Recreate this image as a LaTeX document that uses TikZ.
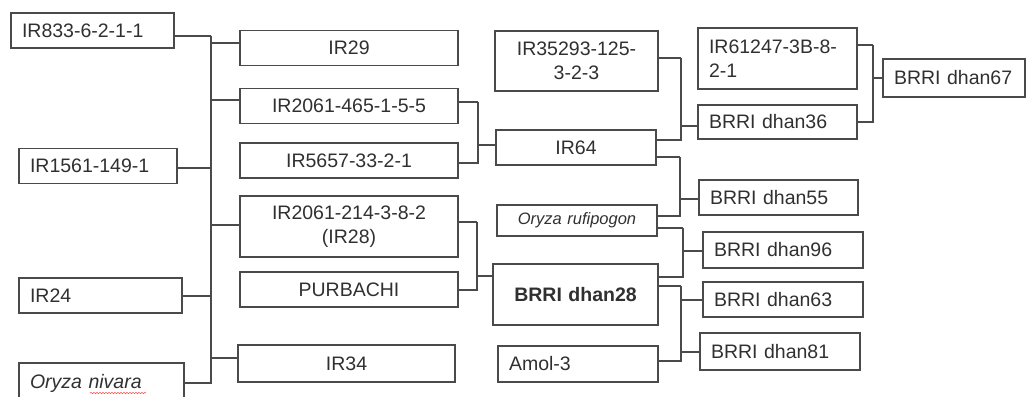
\documentclass[tikz,border=0pt]{standalone}
\usepackage{fontspec}
\setmainfont{Liberation Sans}
\usetikzlibrary{decorations.pathmorphing}
\definecolor{linegray}{HTML}{4A4A4A}
\definecolor{textgray}{HTML}{303030}
\tikzset{
  cell/.style={draw=linegray, line width=1.3pt, text=textgray, inner xsep=11pt,
    inner ysep=0pt, minimum height=35pt, font=\fontsize{19.5}{24}\selectfont},
  lcell/.style={cell, align=left, text width=#1},
  ccell/.style={cell, align=center, text width=#1},
  link/.style={draw=linegray, line width=1.3pt}
}

\begin{document}
\begin{tikzpicture}[x=1pt, y=-1pt]
\useasboundingbox (0,0) rectangle (1027,396);

\node[lcell=141pt] (ir833) at (92.5,30.5) {IR833-6-2-1-1};
\node[lcell=136pt] (ir1561) at (98,166) {IR1561-149-1};
\node[lcell=141pt] (ir24) at (100.5,295.5) {IR24};
\node[lcell=143pt, minimum height=40pt] (onivara) at (101.5,383) {\textit{Oryza nivara}};
\draw[red!70, line width=0.5pt, decorate, decoration={snake, amplitude=0.7pt, segment length=3pt}]
		(90,393) -- (146,393);

\node[ccell=196pt] (ir29) at (349,48) {IR29};
\node[ccell=196pt] (ir2061a) at (349,106) {IR2061-465-1-5-5};
\node[ccell=196pt] (ir5657) at (349,160.5) {IR5657-33-2-1};
\node[ccell=196pt, minimum height=61pt] (ir28) at (349,226.5) {IR2061-214-3-8-2\\(IR28)};
\node[ccell=196pt] (purbachi) at (349,289.5) {PURBACHI};
\node[ccell=195pt, minimum height=37pt] (ir34) at (346.5,363.5) {IR34};

\node[ccell=141pt, minimum height=60pt] (ir35293) at (576.5,61) {IR35293-125-\\3-2-3};
\node[ccell=138pt] (ir64) at (576,147.5) {IR64};
\node[ccell=138pt, minimum height=31pt, font=\fontsize{16.5}{20}\selectfont\itshape] (orufi) at (577,220.5) {Oryza rufipogon};
\node[ccell=143pt, minimum height=61pt, font=\fontsize{19.5}{24}\selectfont\bfseries] (dhan28) at (575.5,294.5) {BRRI dhan28};
\node[lcell=138pt, minimum height=36pt] (amol) at (578,364) {Amol-3};

\node[lcell=137pt, minimum height=61pt] (ir61247) at (777.5,58.5) {IR61247-3B-8-\\2-1};
\node[lcell=137pt, minimum height=34pt] (dhan36) at (777.5,122) {BRRI dhan36};
\node[lcell=137pt] (dhan55) at (778.5,197.5) {BRRI dhan55};
\node[lcell=138pt, minimum height=36pt] (dhan96) at (783,250) {BRRI dhan96};
\node[lcell=138pt] (dhan63) at (783,299.5) {BRRI dhan63};
\node[lcell=138pt, minimum height=37pt] (dhan81) at (780,351.5) {BRRI dhan81};
\node[lcell=120pt, minimum height=38pt] (dhan67) at (954,78) {BRRI dhan67};

\coordinate (spA) at (211,36);
\draw[link] ([yshift=-5.5pt]ir833.east) -- (spA);
\draw[link] (onivara.east) -| (spA);
\draw[link] ([yshift=-2pt]ir1561.east) -| (spA);
\draw[link] ([yshift=-0.5pt]ir24.east) -| (spA);
\draw[link] (spA) |- ([yshift=5pt]ir29.west);
\draw[link] (spA) |- ([yshift=6pt]ir2061a.west);
\draw[link] (spA) |- ([yshift=1.5pt]ir28.west);
\draw[link] (spA) |- ([yshift=5.5pt]ir34.west);

\coordinate (spB) at (478,102);
\draw[link] ([yshift=4pt]ir2061a.east) -- (spB);
\draw[link] ([yshift=-2.5pt]ir5657.east) -| (spB);
\draw[link] (spB) |- ([yshift=2.5pt]ir64.west);

\coordinate (spC) at (477,222);
\draw[link] ([yshift=4.5pt]ir28.east) -- (spC);
\draw[link] ([yshift=-0.5pt]purbachi.east) -| (spC);
\draw[link] (spC) |- ([yshift=18.5pt]dhan28.west);

\coordinate (spD) at (681,58);
\draw[link] ([yshift=3pt]ir35293.east) -- (spD);
\draw[link] ([yshift=7.5pt]ir64.east) -| (spD);
\draw[link] (spD) |- ([yshift=-4pt]dhan36.west);

\coordinate (spE) at (680,157);
\draw[link] ([yshift=-9.5pt]ir64.east) -- (spE);
\draw[link] ([yshift=4.5pt]orufi.east) -| (spE);
\draw[link] (spE) |- ([yshift=-1.5pt]dhan55.west);

\coordinate (spF) at (683,228);
\draw[link] ([yshift=-7.5pt]orufi.east) -- (spF);
\draw[link] ([yshift=17.5pt]dhan28.east) -| (spF);
\draw[link] (spF) |- ([yshift=-1pt]dhan96.west);

\coordinate (spG) at (681,286);
\draw[link] ([yshift=8.5pt]dhan28.east) -- (spG);
\draw[link] ([yshift=3pt]amol.east) -| (spG);
\draw[link] (spG) |- ([yshift=-0.5pt]dhan63.west);
\draw[link] (spG) |- ([yshift=-0.5pt]dhan81.west);

\coordinate (spH) at (873,45);
\draw[link] ([yshift=13.5pt]ir61247.east) -- (spH);
\draw[link] (dhan36.east) -| (spH);
\draw[link] (spH) |- (dhan67.west);

\end{tikzpicture}
\end{document}
